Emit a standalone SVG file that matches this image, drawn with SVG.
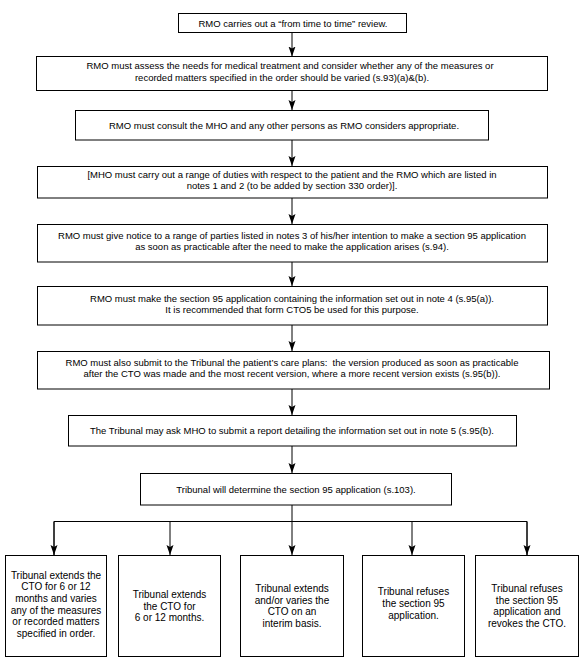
<svg xmlns="http://www.w3.org/2000/svg" width="584" height="664" viewBox="0 0 584 664">
<defs>
<style>
rect{fill:#fff;stroke:#000;stroke-width:1}
text{font-family:"Liberation Sans",Arial,sans-serif;font-size:9.5px;fill:#000;text-anchor:middle;white-space:pre}
.b text{font-size:10px}
.c{fill:none;stroke:#000;stroke-width:1}
</style>
<marker id="ah" markerUnits="userSpaceOnUse" markerWidth="11" markerHeight="8" refX="10" refY="3.5" orient="auto">
<path d="M0,0 L10,3.5 L0,7 L2,3.5 Z" fill="#000"/>
</marker>
</defs>
<rect x="0" y="0" width="584" height="664" style="stroke:none"/>
<g id="connectors">
<line class="c" x1="292" y1="32.5" x2="292" y2="56.5" marker-end="url(#ah)"/>
<line class="c" x1="292" y1="90.5" x2="292" y2="110" marker-end="url(#ah)"/>
<line class="c" x1="292" y1="140" x2="292" y2="166" marker-end="url(#ah)"/>
<line class="c" x1="292" y1="198" x2="292" y2="224" marker-end="url(#ah)"/>
<line class="c" x1="292" y1="262" x2="292" y2="286" marker-end="url(#ah)"/>
<line class="c" x1="292" y1="325" x2="292" y2="351" marker-end="url(#ah)"/>
<line class="c" x1="292" y1="389" x2="292" y2="415" marker-end="url(#ah)"/>
<line class="c" x1="292" y1="446" x2="292" y2="473" marker-end="url(#ah)"/>
<line class="c" x1="292" y1="505" x2="292" y2="555" marker-end="url(#ah)"/>
<polyline class="c" points="54,555 54,521.5 527,521.5 527,555"/>
<line class="c" x1="54" y1="521.5" x2="54" y2="555" marker-end="url(#ah)"/>
<line class="c" x1="170" y1="521.5" x2="170" y2="555" marker-end="url(#ah)"/>
<line class="c" x1="412" y1="521.5" x2="412" y2="555" marker-end="url(#ah)"/>
<line class="c" x1="527" y1="521.5" x2="527" y2="555" marker-end="url(#ah)"/>
</g>
<g id="n1"><rect x="178.5" y="13.5" width="228" height="19"/><text x="293" y="26.5">RMO carries out a “from time to time” review.</text></g>
<g id="n2"><rect x="36.5" y="56.5" width="511" height="34"/><text x="290" y="69.4">RMO must assess the needs for medical treatment and consider whether any of the measures or</text><text x="282" y="80.6">recorded matters specified in the order should be varied (s.93)(a)&amp;(b).</text></g>
<g id="n3"><rect x="75.5" y="110.5" width="413" height="29.5"/><text x="284" y="128.5">RMO must consult the MHO and any other persons as RMO considers appropriate.</text></g>
<g id="n4"><rect x="37.5" y="166.5" width="510" height="31.5"/><text x="292" y="178">[MHO must carry out a range of duties with respect to the patient and the RMO which are listed in</text><text x="292" y="189.2">notes 1 and 2 (to be added by section 330 order)].</text></g>
<g id="n5"><rect x="37.5" y="224.5" width="510" height="37.5"/><text x="292" y="239">RMO must give notice to a range of parties listed in notes 3 of his/her intention to make a section 95 application</text><text x="292" y="250.2">as soon as practicable after the need to make the application arises (s.94).</text></g>
<g id="n6"><rect x="37.5" y="286.5" width="510" height="38.5"/><text x="292" y="301.5">RMO must make the section 95 application containing the information set out in note 4 (s.95(a)).</text><text x="292" y="312.7">It is recommended that form CTO5 be used for this purpose.</text></g>
<g id="n7"><rect x="37.5" y="351.5" width="512" height="37.5"/><text x="292" y="366">RMO must also submit to the Tribunal the patient’s care plans:  the version produced as soon as practicable</text><text x="292" y="377.2">after the CTO was made and the most recent version, where a more recent version exists (s.95(b)).</text></g>
<g id="n8"><rect x="68.5" y="415.5" width="448" height="30.5"/><text x="292" y="434">The Tribunal may ask MHO to submit a report detailing the information set out in note 5 (s.95(b).</text></g>
<g id="n9"><rect x="140.5" y="473.5" width="311" height="31.5"/><text x="296" y="492.5">Tribunal will determine the section 95 application (s.103).</text></g>
<g class="b">
<g id="n10"><rect x="5.5" y="555.5" width="101" height="101"/>
<text x="56" y="578.6">Tribunal extends the</text><text x="56" y="590.3">CTO for 6 or 12</text><text x="56" y="602">months and varies</text><text x="56" y="613.7">any of the measures</text><text x="56" y="625.4">or recorded matters</text><text x="56" y="637.1">specified in order.</text></g>
<g id="n11"><rect x="118.5" y="555.5" width="102" height="101"/>
<text x="169.5" y="598">Tribunal extends</text><text x="169.5" y="609.7">the CTO for</text><text x="169.5" y="621.4">6 or 12 months.</text></g>
<g id="n12"><rect x="240.5" y="555.5" width="103" height="101"/>
<text x="292" y="591.9">Tribunal extends</text><text x="292" y="603.6">and/or varies the</text><text x="292" y="615.3">CTO on an</text><text x="292" y="627">interim basis.</text></g>
<g id="n13"><rect x="362.5" y="555.5" width="102" height="101"/>
<text x="413.5" y="595.3">Tribunal refuses</text><text x="413.5" y="607">the section 95</text><text x="413.5" y="618.7">application.</text></g>
<g id="n14"><rect x="475.5" y="555.5" width="103" height="101"/>
<text x="527" y="591.9">Tribunal refuses</text><text x="527" y="603.6">the section 95</text><text x="527" y="615.3">application and</text><text x="527" y="627">revokes the CTO.</text></g>
</g>
</svg>
